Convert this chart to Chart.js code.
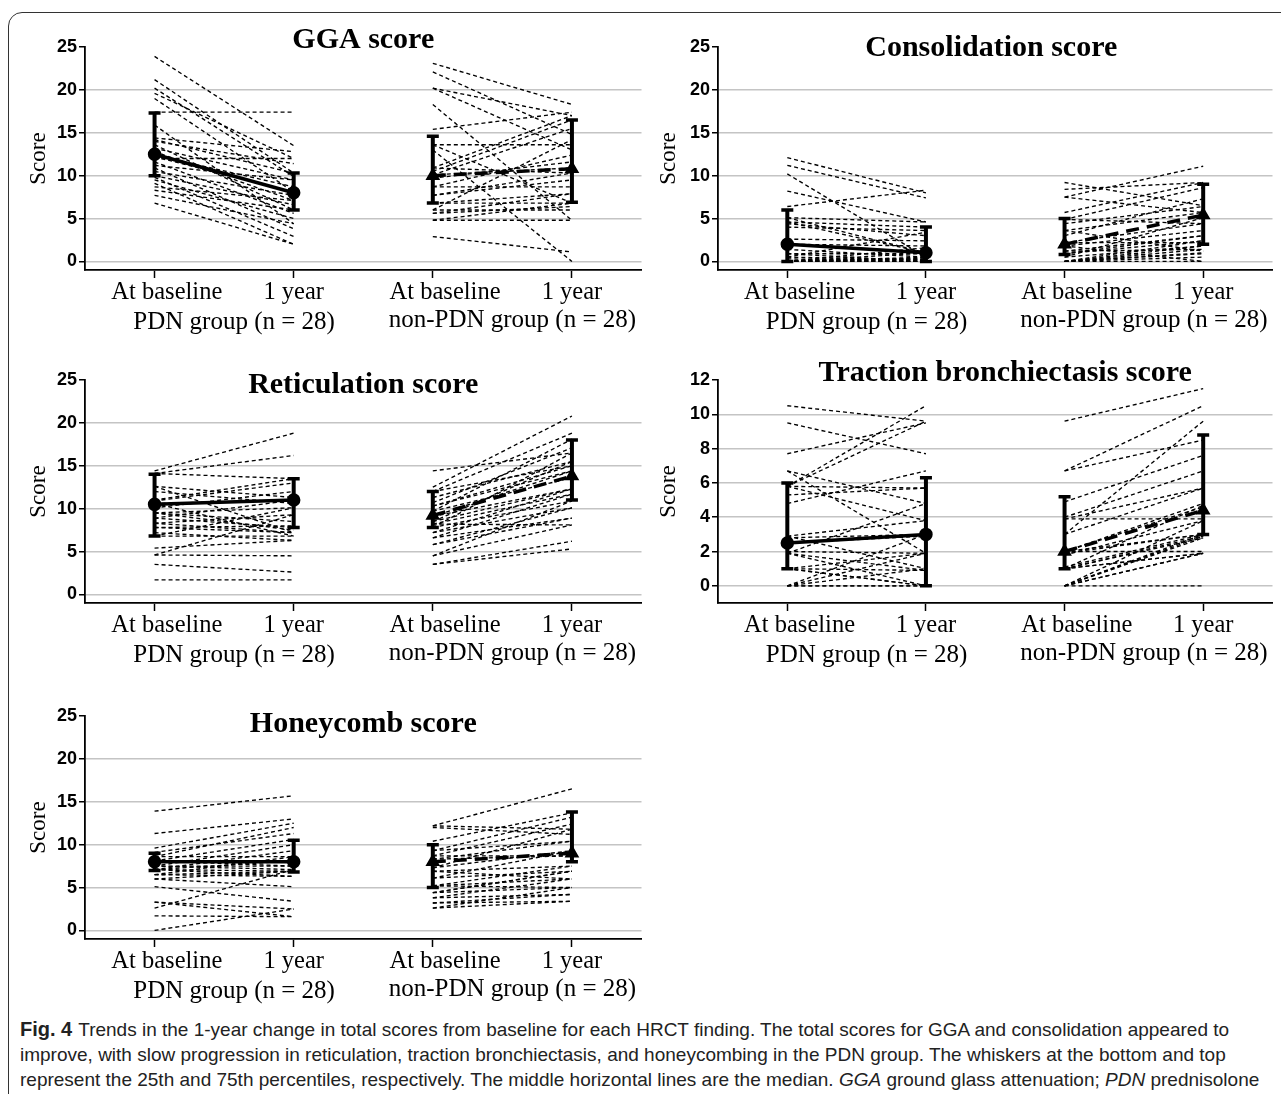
<!DOCTYPE html>
<html>
<head>
<meta charset="utf-8">
<script src="https://cdn.jsdelivr.net/npm/chart.js@4.4.1/dist/chart.umd.min.js"></script>
<style>
  body { margin: 0; background: #fff; width: 1281px; height: 1094px; overflow: hidden; position: relative; }
  .frame { position: absolute; left: 8px; top: 12px; width: 1300px; height: 1120px; border: 1.5px solid #333; border-radius: 14px; }
  canvas { position: absolute; }
  .caption { position: absolute; left: 20px; top: 1017px; font-family: "Liberation Sans Narrow", "Liberation Sans", sans-serif; font-size: 19px; line-height: 25px; color: #222; white-space: nowrap; }
  .caption b { font-size: 20px; margin-right: 6px; }
</style>
</head>
<body>
<div class="frame"></div>
<canvas id="gga" style="left:0;top:0" width="650" height="340"></canvas>
<canvas id="cons" style="left:633px;top:0" width="648" height="340"></canvas>
<canvas id="ret" style="left:0;top:333px" width="650" height="340"></canvas>
<canvas id="trac" style="left:633px;top:333px" width="648" height="340"></canvas>
<canvas id="honey" style="left:0;top:669px" width="650" height="340"></canvas>
<div class="caption">
  <div><b>Fig. 4</b>Trends in the 1-year change in total scores from baseline for each HRCT finding. The total scores for GGA and consolidation appeared to</div>
  <div>improve, with slow progression in reticulation, traction bronchiectasis, and honeycombing in the PDN group. The whiskers at the bottom and top</div>
  <div>represent the 25th and 75th percentiles, respectively. The middle horizontal lines are the median. <i>GGA</i> ground glass attenuation; <i>PDN</i> prednisolone</div>
</div>
<script>
// x categories (positions 1..4) and group captions
const tickLabels = ['At baseline', '1 year', 'At baseline', '1 year'];
const groupLabels = ['PDN group (n = 28)', 'non-PDN group (n = 28)'];

// GGA score
const ggaPdnBase = [23.9, 21.2, 20.2, 19.6, 19.0, 17.4, 15.9, 14.4, 14.0, 13.6, 13.2, 12.8, 12.4, 12.0, 11.6, 11.2, 10.9, 10.5, 10.0, 9.5, 9.1, 8.7, 8.3, 7.7, 6.8, 14.2, 12.2, 9.8];
const ggaPdnYear = [13.5, 10.3, 9.9, 12.0, 8.1, 17.4, 4.4, 12.8, 11.4, 6.0, 9.5, 7.1, 8.7, 12.0, 5.6, 9.5, 3.8, 7.7, 6.6, 5.0, 2.0, 7.1, 6.0, 4.4, 2.0, 10.3, 8.1, 2.9];
const ggaNonBase = [23.1, 22.1, 20.2, 20.2, 18.3, 15.4, 13.6, 13.6, 10.9, 10.5, 10.1, 10.1, 9.7, 13.0, 8.7, 8.7, 7.7, 7.7, 6.8, 6.8, 6.0, 6.0, 5.6, 5.6, 4.8, 4.8, 2.9, 10.9];
const ggaNonYear = [18.3, 14.8, 17.0, 13.0, 4.8, 17.4, 13.6, 6.8, 17.0, 16.5, 15.5, 10.9, 11.6, 0.0, 8.7, 12.4, 10.3, 9.5, 7.9, 6.8, 14.2, 6.0, 7.9, 6.4, 4.8, 6.8, 1.1, 10.3];
const ggaMedian = [12.5, 8.0, 10.0, 10.8];
const ggaQ1 = [10.0, 6.0, 6.8, 6.9];
const ggaQ3 = [17.3, 10.3, 14.6, 16.5];

// Consolidation score
const consPdnBase = [12.1, 11.2, 10.2, 8.2, 6.4, 5.1, 4.6, 4.4, 4.6, 4.0, 2.6, 2.0, 1.4, 0.9, 0.5, 0, 0, 0, 0, 0, 0, 0, 0, 0.9, 0.3, 5.1, 0, 0.5];
const consPdnYear = [8.0, 7.4, 0.5, 4.6, 8.3, 4.6, 4.0, 3.0, 1.0, 3.6, 2.4, 1.8, 0.5, 0.0, 3.4, 0, 0, 0.2, 0.4, 1.0, 0.5, 0, 1.6, 0.9, 0, 1.0, 0.3, 0.2];
const consNonBase = [9.2, 8.4, 7.5, 7.5, 5.7, 4.9, 4.4, 3.6, 3.0, 2.2, 1.8, 1.2, 0.9, 0.5, 0, 0, 0, 0, 0, 1.8, 0.5, 2.2, 1.2, 0, 0.9, 3.6, 0, 4.9];
const consNonYear = [6.5, 9.2, 11.1, 5.7, 9.2, 8.6, 6.4, 5.7, 7.3, 4.4, 3.6, 3.0, 2.4, 5.1, 1.8, 1.4, 0.9, 2.4, 1.0, 0, 1.8, 2.2, 1.4, 0, 3.0, 1.2, 0.5, 4.4];
const consMedian = [2.0, 1.0, 2.0, 5.4];
const consQ1 = [0, 0, 0.8, 2.0];
const consQ3 = [6.0, 4.0, 5.0, 9.0];

// Reticulation score
const retPdnBase = [14.4, 14.1, 14.1, 12.6, 12.6, 10.9, 10.6, 10.6, 10.1, 9.5, 9.5, 8.9, 8.9, 8.3, 8.3, 7.8, 7.2, 6.8, 6.8, 5.4, 4.6, 4.6, 3.5, 1.7, 7.8, 12.0, 9.5, 11.0];
const retPdnYear = [18.8, 16.2, 13.5, 11.3, 7.2, 13.0, 11.0, 6.8, 12.0, 10.1, 8.5, 11.0, 7.8, 9.3, 7.2, 8.0, 6.3, 10.1, 6.8, 6.3, 9.3, 4.5, 2.6, 1.7, 7.2, 10.6, 7.5, 13.5];
const retNonBase = [14.4, 12.5, 12.0, 11.3, 10.7, 10.3, 9.7, 9.7, 9.1, 8.5, 8.5, 8.2, 7.8, 7.8, 7.2, 7.2, 6.6, 6.6, 5.8, 5.8, 4.5, 4.5, 3.5, 3.5, 10.3, 9.1, 8.2, 12.0];
const retNonYear = [16.5, 20.8, 18.8, 15.5, 17.1, 15.0, 18.1, 13.6, 14.4, 12.3, 15.5, 11.7, 10.9, 16.5, 10.1, 12.3, 8.9, 11.7, 8.9, 10.1, 8.1, 10.9, 6.2, 5.3, 14.4, 12.3, 8.1, 15.0];
const retMedian = [10.5, 11.0, 9.2, 13.8];
const retQ1 = [6.8, 7.8, 7.8, 11.0];
const retQ3 = [14.0, 13.5, 12.0, 18.0];

// Traction bronchiectasis score
const tracPdnBase = [10.5, 9.5, 7.7, 6.7, 6.7, 5.8, 5.8, 5.8, 5.8, 4.8, 5.3, 2.9, 2.8, 2.5, 2.0, 1.9, 1.9, 1.0, 1.0, 1.0, 0, 0, 0, 0, 2.9, 1.9, 0, 1.0];
const tracPdnYear = [9.6, 7.7, 9.5, 4.8, 1.9, 10.5, 9.6, 5.7, 3.8, 6.7, 5.7, 3.8, 3.0, 2.9, 1.9, 4.8, 0, 0.9, 0, 1.9, 1.9, 1.0, 0, 0, 1.0, 0.9, 3.0, 0];
const tracNonBase = [9.6, 6.7, 6.7, 4.9, 4.0, 3.9, 3.9, 3.0, 3.0, 2.0, 2.0, 1.8, 1.9, 1.1, 1.0, 1.0, 1.0, 0, 0, 0, 0, 0, 0, 2.0, 1.0, 0, 2.0, 1.0];
const tracNonYear = [11.5, 10.5, 8.5, 7.6, 6.7, 5.7, 3.9, 9.6, 5.7, 4.8, 4.6, 3.8, 3.0, 3.0, 2.8, 4.7, 1.9, 0, 1.9, 2.8, 3.0, 1.9, 2.9, 2.0, 1.9, 3.8, 3.0, 2.9];
const tracMedian = [2.5, 3.0, 2.0, 4.4];
const tracQ1 = [1.0, 0, 1.0, 3.0];
const tracQ3 = [6.0, 6.3, 5.2, 8.8];

// Honeycomb score
const honPdnBase = [13.9, 11.3, 9.6, 9.1, 8.6, 8.1, 8.1, 7.5, 7.5, 7.1, 7.1, 6.5, 6.5, 6.0, 6.0, 5.1, 3.3, 2.6, 1.7, 0, 8.1, 7.5, 7.1, 8.6, 6.5, 3.3, 7.1, 8.1];
const honPdnYear = [15.7, 13.0, 12.5, 11.3, 12.0, 8.1, 10.6, 7.5, 10.0, 9.3, 6.9, 8.6, 6.3, 5.1, 6.9, 3.4, 2.5, 7.1, 1.6, 2.5, 7.5, 7.1, 8.1, 8.6, 6.9, 1.6, 6.3, 8.1];
const honNonBase = [12.2, 12.2, 12.0, 10.4, 9.3, 8.7, 8.3, 8.3, 7.3, 7.3, 6.9, 6.1, 6.1, 5.2, 5.2, 4.4, 4.4, 3.8, 3.8, 3.2, 3.2, 2.6, 2.6, 8.7, 6.9, 5.2, 4.4, 9.3];
const honNonYear = [16.5, 11.8, 11.2, 13.7, 13.2, 12.4, 10.4, 8.7, 11.8, 9.3, 7.5, 6.9, 9.3, 6.0, 7.5, 5.0, 6.9, 6.0, 4.2, 4.2, 3.4, 5.0, 3.4, 8.7, 6.0, 5.0, 6.9, 10.4];
const honMedian = [8.0, 8.0, 8.0, 9.0];
const honQ1 = [7.0, 6.8, 5.0, 8.0];
const honQ3 = [9.0, 10.5, 10.0, 13.8];

const serif = '"Liberation Serif", "Times New Roman", serif';
const narrow = '"Liberation Sans Narrow", "Liberation Sans", Arial, sans-serif';

// error bars, panel title and group captions
const panelDecor = {
  id: 'panelDecor',
  afterDatasetsDraw(chart, args, opts) {
    const { ctx, scales: { x, y } } = chart;
    ctx.save();
    ctx.strokeStyle = '#000';
    opts.q1.forEach((lo, i) => {
      const px = x.getPixelForValue(i + 1);
      const y1 = y.getPixelForValue(lo);
      const y3 = y.getPixelForValue(opts.q3[i]);
      ctx.lineWidth = 4;
      ctx.beginPath(); ctx.moveTo(px, y1); ctx.lineTo(px, y3); ctx.stroke();
      ctx.lineWidth = 3.5;
      ctx.beginPath();
      ctx.moveTo(px - 6, y1); ctx.lineTo(px + 6, y1);
      ctx.moveTo(px - 6, y3); ctx.lineTo(px + 6, y3);
      ctx.stroke();
    });
    ctx.restore();
  },
  afterDraw(chart, args, opts) {
    const { ctx, chartArea, scales: { x } } = chart;
    ctx.save();
    ctx.fillStyle = '#000';
    ctx.textAlign = 'center';
    ctx.textBaseline = 'middle';
    ctx.font = 'bold 30px ' + serif;
    ctx.fillText(opts.title, (chartArea.left + chartArea.right) / 2 + (opts.titleDx || 0), opts.titleY);
    ctx.font = '25px ' + serif;
    ctx.fillText(groupLabels[0], x.getPixelForValue(1.5) + 10, chartArea.bottom + 52);
    ctx.fillText(groupLabels[1], x.getPixelForValue(3.5) + 10, chartArea.bottom + 50);
    ctx.restore();
  }
};

function pairLines(base, year, x0) {
  return base.map((b, i) => ({
    data: [{ x: x0, y: b }, { x: x0 + 1, y: year[i] }],
    showLine: true,
    borderColor: '#000',
    borderWidth: 1.35,
    borderDash: [4, 3],
    pointRadius: 0
  }));
}

function makePanel(id, title, titleY, titleDx, pdnBase, pdnYear, nonBase, nonYear, median, q1, q3, yMax, yStep) {
  const datasets = [
    ...pairLines(pdnBase, pdnYear, 1),
    ...pairLines(nonBase, nonYear, 3),
    {
      data: [{ x: 1, y: median[0] }, { x: 2, y: median[1] }],
      showLine: true, borderColor: '#000', borderWidth: 3.5,
      pointRadius: 5, pointStyle: 'circle', pointBackgroundColor: '#000', pointBorderColor: '#000'
    },
    {
      data: [{ x: 3, y: median[2] }, { x: 4, y: median[3] }],
      showLine: true, borderColor: '#000', borderWidth: 3.5, borderDash: [13, 8],
      pointRadius: 5, pointStyle: 'triangle', pointBackgroundColor: '#000', pointBorderColor: '#000'
    }
  ];
  const yTicks = [];
  for (let v = 0; v <= yMax; v += yStep) yTicks.push(v);
  const isRight = id === 'cons' || id === 'trac';
  return new Chart(document.getElementById(id), {
    type: 'scatter',
    data: { datasets },
    plugins: [panelDecor],
    options: {
      responsive: false,
      animation: false,
      devicePixelRatio: 1,
      layout: { padding: { top: 47, right: isRight ? 0 : 5, bottom: 0, left: 0 } },
      plugins: {
        legend: { display: false },
        tooltip: { enabled: false },
        panelDecor: { title, titleY, titleDx, q1, q3 }
      },
      scales: {
        x: {
          type: 'linear', min: 0.5, max: 4.5,
          afterBuildTicks: s => { s.ticks = [1, 2, 3, 4].map(v => ({ value: v })); },
          afterFit: s => { s.height = 70; },
          // baseline labels sit a little right of their tick, as in the figure
          ticks: { callback: v => (v % 2 ? '\u2003' : '') + tickLabels[v - 1], color: '#000', padding: 0, maxRotation: 0, autoSkip: false, font: { family: serif, size: 24.5 } },
          grid: { drawOnChartArea: false, drawTicks: true, tickLength: 8, tickColor: '#000', tickWidth: 1.5 },
          border: { color: '#000', width: 1.8 }
        },
        y: {
          type: 'linear', min: -1, max: yMax,
          afterBuildTicks: s => { s.ticks = yTicks.map(v => ({ value: v })); },
          afterFit: s => { s.width = 85; },
          ticks: { color: '#000', padding: 2, font: { family: narrow, size: 18, weight: 'bold' } },
          grid: {
            color: c => (c.tick && c.tick.value === yMax ? 'rgba(0,0,0,0)' : '#c4c4c4'),
            lineWidth: 1.5, tickLength: 6, tickColor: '#000', tickWidth: 1.5
          },
          border: { color: '#000', width: 1.8 },
          title: { display: true, text: 'Score', color: '#000', font: { family: serif, size: 23 }, padding: { top: isRight ? 22 : 25, bottom: 0 } }
        }
      }
    }
  });
}

makePanel('gga', 'GGA score', 40, 0, ggaPdnBase, ggaPdnYear, ggaNonBase, ggaNonYear, ggaMedian, ggaQ1, ggaQ3, 25, 5);
makePanel('cons', 'Consolidation score', 48, -4, consPdnBase, consPdnYear, consNonBase, consNonYear, consMedian, consQ1, consQ3, 25, 5);
makePanel('ret', 'Reticulation score', 52, 0, retPdnBase, retPdnYear, retNonBase, retNonYear, retMedian, retQ1, retQ3, 25, 5);
makePanel('trac', 'Traction bronchiectasis score', 40, 10, tracPdnBase, tracPdnYear, tracNonBase, tracNonYear, tracMedian, tracQ1, tracQ3, 12, 2);
makePanel('honey', 'Honeycomb score', 55, 0, honPdnBase, honPdnYear, honNonBase, honNonYear, honMedian, honQ1, honQ3, 25, 5);
</script>
</body>
</html>
